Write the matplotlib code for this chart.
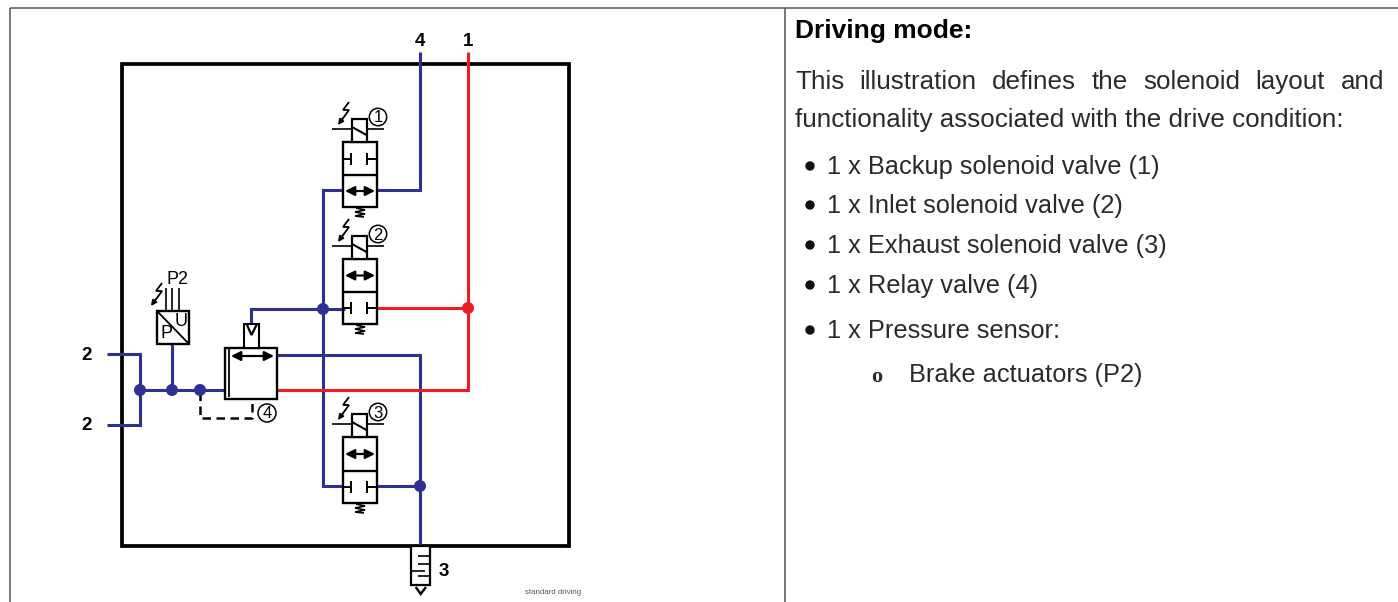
import matplotlib
matplotlib.use('Agg')
import matplotlib.pyplot as plt
from matplotlib.patches import Rectangle, Circle

W, H = 1398, 602
BLUE = '#2e3192'
RED = '#ed1c24'
TXT = '#2a2a2a'

# pipes as polylines, pixel positions
blue_pipes = [
    [(420, 52), (420, 190), (377, 190)],
    [(343, 190), (323, 190), (323, 486), (343, 486)],
    [(345, 309), (251, 309), (251, 324)],
    [(107, 354), (140, 354), (140, 425), (107, 425)],
    [(140, 390), (225, 390)],
    [(172, 390), (172, 344)],
    [(277, 355), (420, 355), (420, 550)],
    [(377, 486), (420, 486)],
]
red_pipes = [
    [(468, 52), (468, 390), (277, 390)],
    [(377, 308), (468, 308)],
]
blue_dots = [(140, 390), (172, 390), (200, 390), (323, 309), (420, 486)]
red_dots = [(468, 308)]
# left, top, right, bottom, middle of each solenoid valve
valves = [(343, 142, 377, 207, 175), (343, 259, 377, 324, 292), (343, 437, 377, 503, 471)]
valve_ids = ['1', '2', '3']
closed_row = [0, 1, 1]  # row of the valve with the blocked ports
port_labels = [('4', 420, 42), ('1', 468, 42), ('2', 87, 356), ('2', 87, 426), ('3', 444, 571)]
heading = 'Driving mode:'
para = ['This', 'illustration', 'defines', 'the', 'solenoid', 'layout', 'and']
para2 = 'functionality associated with the drive condition:'
bullets = [('1 x Backup solenoid valve (1)', 174), ('1 x Inlet solenoid valve (2)', 213),
           ('1 x Exhaust solenoid valve (3)', 253), ('1 x Relay valve (4)', 293),
           ('1 x Pressure sensor:', 338)]

plt.rcParams['font.family'] = ['Liberation Sans', 'DejaVu Sans']
fig = plt.figure(figsize=(W / 100, H / 100), dpi=100)
ax = fig.add_axes([0, 0, 1, 1])
ax.set_xlim(0, W)
ax.set_ylim(H, 0)
ax.axis('off')


def line(pts, c='k', lw=1.7, z=3, **kw):
    ax.plot([p[0] for p in pts], [p[1] for p in pts], color=c, lw=lw, zorder=z,
            solid_joinstyle='miter', solid_capstyle='butt', **kw)


def bolt(x, y):
    line([(x + 5, y - 15), (x - 1, y - 7), (x + 5, y - 7), (x - 3, y + 4)], lw=1.3)
    ax.annotate('', xy=(x - 6, y + 8), xytext=(x - 1, y + 1),
                arrowprops=dict(arrowstyle='-|>', color='k', lw=1.2, mutation_scale=8, shrinkA=0, shrinkB=0))


def double_arrow(x0, x1, y):
    ax.annotate('', xy=(x0, y), xytext=(x1, y), zorder=5,
                arrowprops=dict(arrowstyle='<|-|>', color='k', lw=1.6, mutation_scale=14, shrinkA=0, shrinkB=0))


def ports(x0, x1, y):
    line([(x0, y), (x0 + 8, y)], lw=1.4, z=5)
    line([(x0 + 8, y - 6), (x0 + 8, y + 6)], lw=1.4, z=5)
    line([(x1 - 10, y), (x1, y)], lw=1.4, z=5)
    line([(x1 - 10, y - 6), (x1 - 10, y + 6)], lw=1.4, z=5)


def spring(x, y):
    pts = [(x - 4, y), (x + 5, y + 2), (x - 5, y + 4), (x + 5, y + 6), (x - 5, y + 8), (x + 4, y + 9)]
    line(pts, lw=1.2)


# frame of the table
for seg in [[(10, 8), (1398, 8)], [(10, 8), (10, 602)], [(785, 8), (785, 602)]]:
    line(seg, c='#555555', lw=1.1)
ax.add_patch(Rectangle((122, 64), 447, 482, fill=False, ec='k', lw=2.7, zorder=2))

for p in blue_pipes:
    line(p, c=BLUE, lw=2.2)
for p in red_pipes:
    line(p, c=RED, lw=2.2)
for x, y in blue_dots:
    ax.add_patch(Circle((x, y), 5.3, color=BLUE, zorder=6))
for x, y in red_dots:
    ax.add_patch(Circle((x, y), 5.3, color=RED, zorder=6))

for (x0, y0, x1, y1, ym), vid, row in zip(valves, valve_ids, closed_row):
    ax.add_patch(Rectangle((x0, y0), x1 - x0, y1 - y0, fc='none', ec='k', lw=1.7, zorder=4))
    line([(x0, ym), (x1, ym)], z=4)
    top_mid = (y0 + ym) / 2
    low_mid = (ym + y1) / 2
    if row == 0:
        ports(x0, x1, top_mid)
        double_arrow(x0 + 2, x1 - 2, low_mid)
    else:
        double_arrow(x0 + 2, x1 - 2, top_mid)
        ports(x0, x1, low_mid)
    # coil on top of the valve
    ax.add_patch(Rectangle((352, y0 - 23), 14.5, 23, fc='w', ec='k', lw=1.6, zorder=4))
    line([(352, y0 - 15), (366.5, y0 - 7)], lw=1.5, z=5)
    line([(332, y0 - 13), (352, y0 - 13)], lw=1.2)
    line([(366, y0 - 13), (384, y0 - 13)], lw=1.2)
    bolt(344, y0 - 25)
    ax.add_patch(Circle((378, y0 - 25), 8.7, fc='w', ec='k', lw=1.1, zorder=6))
    ax.text(378, y0 - 24, vid, ha='center', va='center', fontsize=12, zorder=7)
    spring(360, y1 + 1)

# relay valve
ax.add_patch(Rectangle((225, 348), 52, 51, fc='w', ec='k', lw=1.7, zorder=4))
line([(228.5, 348), (228.5, 397)], lw=1.3, z=5)
double_arrow(231, 274, 356)
ax.add_patch(Rectangle((244, 324), 15, 24, fc='w', ec='k', lw=1.5, zorder=4))
line([(247, 325), (251.5, 335), (256.5, 325)], lw=1.6, z=5)
ax.add_patch(Circle((267, 413), 9, fc='w', ec='k', lw=1.1, zorder=6))
ax.text(267, 414, '4', ha='center', va='center', fontsize=12, zorder=7)
ax.plot([200, 200, 252, 252], [392, 418, 418, 399], color='k', lw=1.8, ls=(0, (3.4, 2.2)), zorder=3)

# pressure sensor
ax.add_patch(Rectangle((157, 311), 32, 33, fc='w', ec='k', lw=1.7, zorder=4))
line([(157, 311), (189, 344)], lw=1.3, z=5)
ax.text(166, 333, 'P', ha='center', va='center', fontsize=13, zorder=6)
ax.text(181, 322, 'U', ha='center', va='center', fontsize=13, zorder=6)
for x in [166, 172, 179]:
    line([(x, 288), (x, 311)], lw=1.2)
ax.text(178, 280, 'P2', ha='center', va='center', fontsize=13, zorder=6)
bolt(157, 298)

# silencer on port 3
ax.add_patch(Rectangle((411, 546), 19, 38.5, fc='w', ec='k', lw=1.6, zorder=4))
for y, x0, x1 in [(556, 418, 430), (564, 418, 430), (571, 411, 425), (576, 418, 430)]:
    line([(x0, y), (x1, y)], lw=1.2, z=5)
line([(415.7, 587), (420.7, 594), (426, 587)], lw=1.7)

for txt, x, y in port_labels:
    ax.text(x, y, txt, ha='center', va='center', fontsize=13.5, fontweight='bold', zorder=7)
ax.text(553, 593, 'standard driving', ha='center', va='center', fontsize=5.7, color='#555555')

# text column
FS = 18.3
ax.text(795, 38, heading, ha='left', va='baseline', fontsize=19, fontweight='bold')
# first line is justified between the two margins
words = [ax.text(0, 89, w, ha='left', va='baseline', fontsize=18.7, color=TXT) for w in para]
fig.canvas.draw()
widths = [t.get_window_extent().width for t in words]
gap = (1384 - 795 - sum(widths)) / (len(words) - 1)
x = 795
for t, w in zip(words, widths):
    t.set_x(x)
    x += w + gap
ax.text(795, 127, para2, ha='left', va='baseline', fontsize=18.7, color=TXT)
for txt, y in bullets:
    ax.add_patch(Circle((810, y - 8), 4, color='#111111'))
    ax.text(827, y, txt, ha='left', va='baseline', fontsize=FS, color=TXT)
ax.text(877, 382, 'o', ha='center', va='baseline', fontsize=16, family='Liberation Serif',
        fontweight='bold', color=TXT)
ax.text(909, 382, 'Brake actuators (P2)', ha='left', va='baseline', fontsize=FS, color=TXT)

fig.savefig('out.png', dpi=100)
